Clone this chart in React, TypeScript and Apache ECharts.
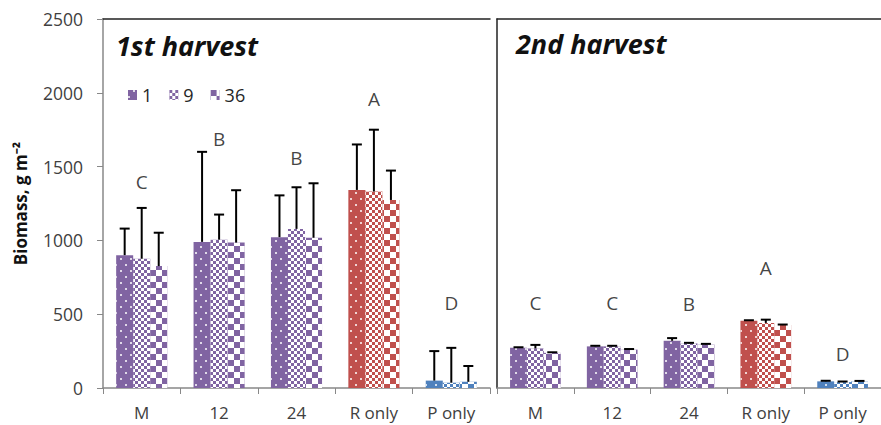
import React, { useEffect, useRef } from "react";
import * as echarts from "echarts";

const categories = ["M", "12", "24", "R only", "P only"];
const seriesNames = ["1", "9", "36"];
const categoryColors = ["#8064A2", "#8064A2", "#8064A2", "#C0504D", "#4F81BD"];

// 1st harvest
const h1Density1 = [900, 990, 1022, 1342, 50];
const h1Density9 = [876, 1005, 1078, 1331, 36];
const h1Density36 = [826, 985, 1018, 1274, 42];
const h1Err1 = [180, 610, 283, 308, 200];
const h1Err9 = [344, 170, 282, 419, 236];
const h1Err36 = [226, 355, 369, 199, 107];
const h1Letters = ["C", "B", "B", "A", "D"];
const h1LetterY = [1399, 1689, 1561, 1959, 574];

// 2nd harvest
const h2Density1 = [272, 282, 320, 455, 45];
const h2Density9 = [268, 282, 302, 441, 40];
const h2Density36 = [238, 260, 295, 426, 44];
const h2Err1 = [4, 4, 18, 4, 4];
const h2Err9 = [24, 4, 4, 22, 4];
const h2Err36 = [4, 4, 4, 4, 4];
const h2Letters = ["C", "C", "B", "A", "D"];
const h2LetterY = [574, 574, 568, 811, 230];

const yTicks = [0, 500, 1000, 1500, 2000, 2500];

const FONT = "Open Sans";
const TXT = "#404040";

const decals: any[] = [
  { symbol: "rect", symbolSize: 1, dashArrayX: [[1.5, 7.5], [0, 4.5, 1.5, 3]], dashArrayY: [1.5, 3.5], color: "rgba(255,255,255,0.75)" },
  { symbol: "rect", symbolSize: 1, dashArrayX: [[3, 3], [0, 3, 3, 0]], dashArrayY: [3, 0], color: "#ffffff" },
  { symbol: "rect", symbolSize: 1, dashArrayX: [[6, 6], [0, 6, 6, 0]], dashArrayY: [6, 0], color: "#ffffff" },
];

export default function App() {
  const ref = useRef<HTMLDivElement>(null);
  useEffect(() => {
    if (!ref.current) return;
    const chart = echarts.init(ref.current, null, { renderer: "svg" });
    const h1 = [h1Density1, h1Density9, h1Density36];
    const h2 = [h2Density1, h2Density9, h2Density36];
    const e1 = [h1Err1, h1Err9, h1Err36];
    const e2 = [h2Err1, h2Err9, h2Err36];

    const barSeries = (vals: number[][], gi: number) =>
      vals.map((v, s) => ({
        type: "bar",
        name: seriesNames[s],
        xAxisIndex: gi * 2,
        yAxisIndex: gi,
        barGap: "0%",
        barCategoryGap: "34%",
        itemStyle: { color: "#8064A2", decal: decals[s] },
        data: v.map((val, i) => ({
          value: val,
          itemStyle: { color: categoryColors[i], decal: decals[s] },
        })),
      }));

    const errSeries = (vals: number[][], errs: number[][], gi: number) => {
      const data: number[][] = [];
      vals.forEach((v, s) => v.forEach((val, i) => data.push([i, val, errs[s][i], s])));
      return {
        type: "custom",
        xAxisIndex: gi * 2,
        yAxisIndex: gi,
        z: 5,
        clip: false,
        encode: { x: 0, y: 1 },
        data,
        renderItem: (params: any, api: any) => {
          const p = api.coord([api.value(0), api.value(1)]);
          const t = api.coord([api.value(0), api.value(1) + api.value(2)]);
          const band = api.size([1, 0])[0];
          const x = p[0] + (api.value(3) - 1) * band * 0.22;
          return {
            type: "group",
            children: [
              { type: "line", shape: { x1: x, y1: p[1], x2: x, y2: t[1] }, style: { stroke: "#000", lineWidth: 2 } },
              { type: "line", shape: { x1: x - 5, y1: t[1], x2: x + 5, y2: t[1] }, style: { stroke: "#000", lineWidth: 2 } },
            ],
          };
        },
      };
    };

    const letterSeries = (letters: string[], ys: number[], gi: number) => ({
      type: "scatter",
      xAxisIndex: gi * 2,
      yAxisIndex: gi,
      symbolSize: 1,
      itemStyle: { color: "transparent" },
      silent: true,
      z: 6,
      data: ys.map((y, i) => [i, y]),
      label: {
        show: true,
        position: "inside",
        formatter: (p: any) => letters[p.dataIndex],
        fontSize: 19,
        fontFamily: FONT,
        color: "#111",
      },
    });

    const bottomAxis = (gi: number) => ({
      type: "category",
      gridIndex: gi,
      data: categories,
      position: "bottom",
      axisLine: { lineStyle: { color: "#888", width: 1.5 } },
      axisTick: { show: true, length: 6, interval: 0, lineStyle: { color: "#888" } },
      axisLabel: { interval: 0, fontSize: 17, fontFamily: FONT, color: TXT, margin: 16 },
    });
    const topAxis = (gi: number) => ({
      type: "category",
      gridIndex: gi,
      data: categories,
      position: "top",
      axisLine: { lineStyle: { color: "#222", width: 1.5 } },
      axisTick: { show: false },
      axisLabel: { show: false },
    });

    chart.setOption({
      animation: false,
      backgroundColor: "#fff",
      title: [
        { text: "1st harvest", left: 116, top: 32, padding: 0, textStyle: { fontSize: 27, fontStyle: "italic", fontWeight: "bold", fontFamily: FONT, color: "#111" } },
        { text: "2nd harvest", left: 516, top: 30, padding: 0, textStyle: { fontSize: 27, fontStyle: "italic", fontWeight: "bold", fontFamily: FONT, color: "#111" } },
      ],
      legend: {
        data: seriesNames,
        left: 128,
        top: 86,
        padding: 0,
        icon: "rect",
        itemWidth: 9,
        itemHeight: 10,
        itemGap: 17,
        textStyle: { fontSize: 18, fontFamily: FONT, color: "#262626" },
      },
      grid: [
        { left: 103, top: 19, width: 387, height: 369 },
        { left: 497, top: 19, width: 398, height: 369 },
      ],
      xAxis: [bottomAxis(0), topAxis(0), bottomAxis(1), topAxis(1)],
      yAxis: [
        {
          type: "value",
          gridIndex: 0,
          min: yTicks[0],
          max: yTicks[yTicks.length - 1],
          interval: 500,
          splitLine: { show: false },
          axisLine: { show: true, lineStyle: { color: "#888", width: 1.5 } },
          axisTick: { show: true, length: 6, lineStyle: { color: "#888" } },
          axisLabel: { fontSize: 17.5, fontFamily: FONT, color: TXT, margin: 20, formatter: (v: number) => String(v) },
          name: "Biomass, g m⁻²",
          nameLocation: "middle",
          nameGap: 74,
          nameTextStyle: { fontSize: 17, fontWeight: "bold", fontFamily: FONT, color: "#111" },
        },
        {
          type: "value",
          gridIndex: 1,
          min: yTicks[0],
          max: yTicks[yTicks.length - 1],
          interval: 500,
          splitLine: { show: false },
          axisLine: { show: true, lineStyle: { color: "#222", width: 1.5 } },
          axisTick: { show: false },
          axisLabel: { show: false },
        },
      ],
      series: [
        ...barSeries(h1, 0),
        ...barSeries(h2, 1),
        errSeries(h1, e1, 0),
        errSeries(h2, e2, 1),
        letterSeries(h1Letters, h1LetterY, 0),
        letterSeries(h2Letters, h2LetterY, 1),
      ],
    });
    return () => chart.dispose();
  }, []);
  return <div ref={ref} style={{ position: "fixed", left: 0, top: 0, width: 881, height: 425 }} />;
}
